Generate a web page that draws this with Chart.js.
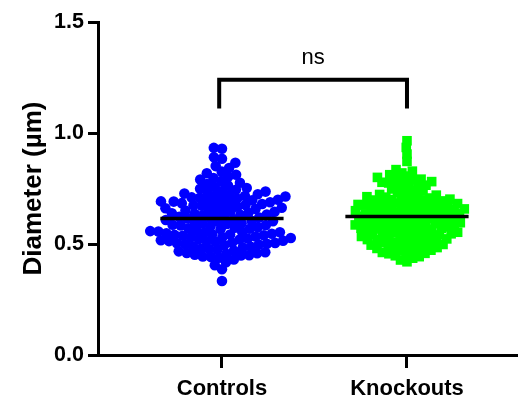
<!DOCTYPE html>
<html>
<head>
<meta charset="utf-8">
<script src="https://cdn.jsdelivr.net/npm/chart.js@4.4.1/dist/chart.umd.min.js"></script>
<style>
  html, body { margin: 0; padding: 0; background: #ffffff; }
  #wrap { width: 518px; height: 398px; position: relative; }
</style>
</head>
<body>
<div id="wrap"><canvas id="c"></canvas></div>
<script>
// Group names on the x axis
const categories = ['Controls', 'Knockouts'];

// Vessel diameters (µm), one value per measurement
const controls = [
  0.933, 0.929, 0.891, 0.884, 0.866, 0.851, 0.842, 0.826, 0.819, 0.812,
  0.803, 0.797, 0.790, 0.784, 0.776, 0.770, 0.764, 0.757, 0.752,
  0.749, 0.744, 0.739, 0.736, 0.732, 0.727,
  0.724, 0.722, 0.718, 0.716, 0.714, 0.710, 0.708, 0.705, 0.702,
  0.699, 0.697, 0.695, 0.692, 0.691, 0.688, 0.685, 0.684, 0.680, 0.680,
  0.676, 0.674, 0.672, 0.668, 0.665, 0.663, 0.661, 0.658, 0.654, 0.651,
  0.648, 0.645, 0.643, 0.640, 0.638, 0.636, 0.633, 0.631, 0.629, 0.626,
  0.622, 0.619, 0.617, 0.615, 0.612, 0.608, 0.605, 0.603, 0.601,
  0.598, 0.594, 0.592, 0.590, 0.587, 0.585, 0.583, 0.580, 0.576, 0.573,
  0.571, 0.569, 0.566, 0.562, 0.558, 0.556, 0.555, 0.553, 0.551,
  0.548, 0.546, 0.544, 0.543, 0.541, 0.539, 0.537, 0.534, 0.532, 0.530,
  0.527, 0.525, 0.523, 0.520, 0.517, 0.515, 0.513, 0.512, 0.510, 0.506,
  0.505, 0.503, 0.501, 0.500,
  0.498, 0.494, 0.490, 0.487, 0.484, 0.480, 0.477, 0.474, 0.470, 0.467,
  0.463, 0.460, 0.458, 0.456, 0.452, 0.449,
  0.448, 0.444, 0.441, 0.438, 0.430, 0.418, 0.404, 0.386, 0.333
];
const knockouts = [
  0.965, 0.935, 0.905, 0.872, 0.835, 0.828, 0.820, 0.812, 0.806, 0.800,
  0.797, 0.792, 0.788, 0.785, 0.781, 0.778, 0.775, 0.771, 0.768, 0.765,
  0.760, 0.754, 0.748, 0.743, 0.738, 0.733, 0.728, 0.723, 0.720, 0.718,
  0.713, 0.711, 0.709, 0.707, 0.705, 0.702, 0.700, 0.698, 0.696, 0.694,
  0.692, 0.690, 0.688, 0.686, 0.684, 0.682, 0.680, 0.678, 0.676, 0.675,
  0.673, 0.671, 0.669, 0.667, 0.665, 0.663, 0.661, 0.660, 0.658, 0.656,
  0.654, 0.652, 0.650, 0.648, 0.646, 0.645, 0.643, 0.641, 0.639, 0.637,
  0.635, 0.633, 0.631, 0.630, 0.628, 0.626, 0.624, 0.622, 0.620, 0.618,
  0.616, 0.615, 0.613, 0.611, 0.609, 0.607, 0.605, 0.603, 0.601, 0.600,
  0.598, 0.596, 0.594, 0.592, 0.590, 0.588, 0.586, 0.585, 0.583, 0.581,
  0.579, 0.577, 0.575, 0.573, 0.571, 0.570, 0.568, 0.566, 0.564, 0.562,
  0.560, 0.557, 0.555, 0.553, 0.550, 0.548, 0.546, 0.545, 0.543, 0.541,
  0.538, 0.536, 0.534, 0.532, 0.531, 0.528, 0.526, 0.523, 0.520, 0.519,
  0.517, 0.514, 0.511, 0.508, 0.506, 0.505, 0.502, 0.498, 0.497, 0.495,
  0.491, 0.488, 0.486, 0.484, 0.480, 0.478, 0.476, 0.472, 0.469, 0.467,
  0.462, 0.458, 0.456, 0.450, 0.447, 0.443, 0.436, 0.428, 0.420
];

// Y axis tick values
const yTicks = [0, 0.5, 1.0, 1.5];

// Significance bracket between the two groups
const bracketX = [-0.015, 1.0];
const bracketY = [1.11, 1.24];
const significanceLabel = 'ns';

const FONT = '"Liberation Sans", Arial, Helvetica, sans-serif';
const mean = a => a.reduce((s, v) => s + v, 0) / a.length;
const halfMeanLine = 0.333;

const groups = [controls, knockouts];

// Lay points out side by side (beeswarm) so that markers with similar values do not fully cover each other
function swarmOffsets(values, minDist, pxPerY) {
  const placed = [];
  const xs = new Array(values.length);
  const order = values.map((v, i) => i).sort((a, b) => values[a] - values[b]);
  for (const i of order) {
    const py = values[i] * pxPerY;
    const blocks = [];
    for (const p of placed) {
      const dy = py - p.y;
      if (Math.abs(dy) < minDist) {
        const dx = Math.sqrt(minDist * minDist - dy * dy);
        blocks.push([p.x - dx, p.x + dx]);
      }
    }
    const cands = [0];
    blocks.forEach(b => cands.push(b[0], b[1]));
    cands.sort((a, b) => Math.abs(a) - Math.abs(b));
    let x = 0;
    for (const c of cands) {
      if (blocks.every(b => c <= b[0] + 1e-9 || c >= b[1] - 1e-9)) { x = c; break; }
    }
    placed.push({ x, y: py });
    xs[i] = x;
  }
  return xs;
}

const sigPlugin = {
  id: 'sigLabel',
  afterDatasetsDraw(chart) {
    const { ctx, scales } = chart;
    const cx = scales.x.getPixelForValue((bracketX[0] + bracketX[1]) / 2);
    const cy = scales.y.getPixelForValue(bracketY[1]);
    ctx.save();
    ctx.fillStyle = '#000';
    ctx.font = '22px ' + FONT;
    ctx.textAlign = 'center';
    ctx.textBaseline = 'alphabetic';
    ctx.fillText(significanceLabel, cx, cy - 16);
    ctx.restore();
  }
};

const chart = new Chart(document.getElementById('c'), {
  data: {
    datasets: [
      {
        type: 'line', order: 0,
        data: groups.map((g, gi) => [
          { x: gi - halfMeanLine, y: mean(g) }, { x: gi + halfMeanLine, y: mean(g) }, { x: NaN, y: NaN }
        ]).flat(),
        borderColor: '#000', borderWidth: 3.5, pointRadius: 0, spanGaps: false, tension: 0
      },
      {
        type: 'line', order: 0,
        data: [
          { x: bracketX[0], y: bracketY[0] }, { x: bracketX[0], y: bracketY[1] },
          { x: bracketX[1], y: bracketY[1] }, { x: bracketX[1], y: bracketY[0] }
        ],
        borderColor: '#000', borderWidth: 4, pointRadius: 0, tension: 0,
        borderJoinStyle: 'miter', borderCapStyle: 'butt'
      },
      {
        type: 'scatter', order: 1, label: categories[0],
        data: controls.map(v => ({ x: 0, y: v })),
        pointStyle: 'circle', pointRadius: 5.3, pointBorderWidth: 0,
        backgroundColor: '#0000ff', borderColor: '#0000ff'
      },
      {
        type: 'scatter', order: 1, label: categories[1],
        data: knockouts.map(v => ({ x: 1, y: v })),
        pointStyle: 'rect', pointRadius: 6.8, pointBorderWidth: 0,
        backgroundColor: '#00ff00', borderColor: '#00ff00'
      }
    ]
  },
  options: {
    responsive: true,
    maintainAspectRatio: false,
    devicePixelRatio: 1,
    animation: false,
    layout: { autoPadding: false, padding: { top: 22, right: 0, bottom: 0, left: 0 } },
    plugins: { legend: { display: false }, tooltip: { enabled: false } },
    scales: {
      x: {
        type: 'linear', min: -0.67, max: 1.6,
        afterBuildTicks: s => { s.ticks = categories.map((c, i) => ({ value: i })); },
        afterFit: s => { s.height = 43; s.paddingLeft = 0; s.paddingRight = 0; },
        ticks: {
          callback: v => categories[v],
          color: '#000', font: { family: FONT, size: 22, weight: 'bold' }, padding: 8, maxRotation: 0
        },
        grid: { drawOnChartArea: false, drawTicks: true, tickLength: 13, tickWidth: 3, tickColor: '#000' },
        border: { display: true, width: 3, color: '#000' }
      },
      y: {
        min: 0, max: 1.5,
        afterBuildTicks: s => { s.ticks = yTicks.map(v => ({ value: v })); },
        afterFit: s => { s.width = 98; },
        ticks: {
          callback: v => v.toFixed(1),
          color: '#000', font: { family: FONT, size: 21.5, weight: 'bold' }, padding: 4
        },
        grid: { drawOnChartArea: false, drawTicks: true, tickLength: 10, tickWidth: 3, tickColor: '#000' },
        border: { display: true, width: 3, color: '#000' },
        title: {
          display: true, text: 'Diameter (µm)', color: '#000',
          font: { family: FONT, size: 26, weight: 'bold' }, padding: { top: 18, bottom: 0 }
        }
      }
    }
  },
  plugins: [sigPlugin]
});

// Spread each group horizontally using the real pixel scale of the axes
(function spread() {
  const xs = chart.scales.x, ys = chart.scales.y;
  const pxPerX = xs.getPixelForValue(1) - xs.getPixelForValue(0);
  const pxPerY = ys.getPixelForValue(0) - ys.getPixelForValue(1);
  const minDist = [8.2, 6.7];
  groups.forEach((g, gi) => {
    const offs = swarmOffsets(g, minDist[gi], pxPerY);
    chart.data.datasets[2 + gi].data = g.map((v, i) => ({ x: gi + offs[i] / pxPerX, y: v }));
  });
  chart.update('none');
})();
</script>
</body>
</html>
